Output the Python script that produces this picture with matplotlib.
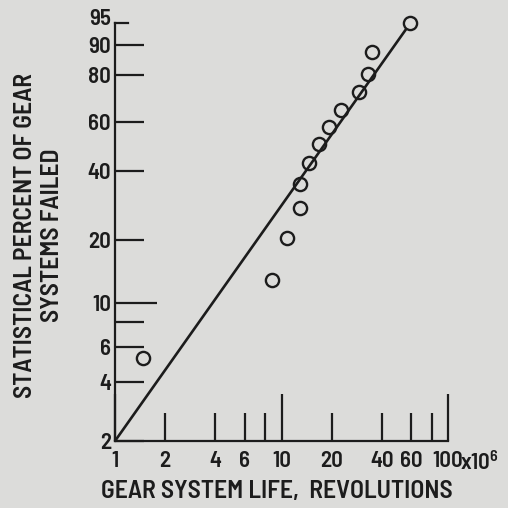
import numpy as np
import matplotlib
matplotlib.use("Agg")
import matplotlib.pyplot as plt
from matplotlib.ticker import FixedLocator, FixedFormatter

# gear system life, millions of revolutions, and statistical percent failed
life = [1.48, 8.8, 10.75, 12.9, 13.0, 14.7, 16.8, 19.3, 22.7, 29.2, 32.9, 34.8, 59.0]
pct_failed = [5.3, 12.9, 20.5, 28.0, 35.5, 43.0, 50.5, 58.0, 65.5, 73.0, 80.5, 88.0, 95.0]

# fitted Weibull line end points
fit_life = [1.0, 56.5]
fit_pct = [2.0, 94.0]

x_major = [1, 10, 100]
x_major_labels = ["1", "10", "100"]
x_minor = [2, 4, 6, 8, 20, 40, 60, 80]
x_minor_labels = ["2", "4", "6", "", "20", "40", "60", ""]
y_major = [10]
y_major_labels = ["10"]
y_minor = [2, 4, 6, 8, 20, 40, 60, 80, 90]
y_minor_labels = ["2", "4", "6", "", "20", "40", "60", "80", "90"]
y_top = 95

fnt = "Barlow Semi Condensed"
plt.rcParams["font.family"] = [fnt, "DejaVu Sans"]
plt.rcParams["font.weight"] = "semibold"
plt.rcParams["mathtext.fontset"] = "custom"
plt.rcParams["mathtext.rm"] = fnt + ":semibold"
plt.rcParams["mathtext.it"] = fnt + ":semibold"

ink = "#1c1c1c"
bg = "#dcdcda"
fs_tick = 16.5
fs_lab = 18.5


def weib(p):
    p = np.clip(np.asarray(p, dtype=float), 1e-6, 100 - 1e-6)
    return np.log(-np.log(1 - p / 100.0))


def weib_inv(w):
    return 100.0 * (1 - np.exp(-np.exp(np.asarray(w, dtype=float))))


fig = plt.figure(figsize=(5.08, 5.08), dpi=100, facecolor=bg)
ax = fig.add_axes([115 / 508, 1 - 441 / 508, 333 / 508, 418 / 508])
ax.set_facecolor(bg)

ax.set_xscale("log")
ax.set_yscale("function", functions=(weib, weib_inv))
ax.set_xlim(1, 100)
ax.set_ylim(2, y_top)

ax.plot(fit_life, fit_pct, color=ink, lw=1.9, solid_capstyle="butt", clip_on=False)
ax.plot(life, pct_failed, "o", ms=9.5, mfc="none", mec=ink, mew=1.7, clip_on=False)

for s in ["top", "right"]:
    ax.spines[s].set_visible(False)
for s in ["left", "bottom"]:
    ax.spines[s].set_color(ink)
    ax.spines[s].set_linewidth(1.6)

ax.xaxis.set_major_locator(FixedLocator(x_major))
ax.xaxis.set_major_formatter(FixedFormatter(x_major_labels))
ax.xaxis.set_minor_locator(FixedLocator(x_minor))
ax.xaxis.set_minor_formatter(FixedFormatter(x_minor_labels))
ax.yaxis.set_major_locator(FixedLocator(y_major))
ax.yaxis.set_major_formatter(FixedFormatter(y_major_labels))
ax.yaxis.set_minor_locator(FixedLocator(y_minor))
ax.yaxis.set_minor_formatter(FixedFormatter(y_minor_labels))

ax.tick_params(axis="x", which="major", direction="in", length=34, width=1.6,
               color=ink, labelcolor=ink, labelsize=fs_tick, pad=7)
ax.tick_params(axis="x", which="minor", direction="in", length=20, width=1.6,
               color=ink, labelcolor=ink, labelsize=fs_tick, pad=7)
ax.tick_params(axis="y", which="major", direction="in", length=30, width=1.6,
               color=ink, labelcolor=ink, labelsize=fs_tick, pad=3)
ax.tick_params(axis="y", which="minor", direction="in", length=21, width=1.6,
               color=ink, labelcolor=ink, labelsize=fs_tick, pad=3)

# short hook at the top of the percent scale
ax.axhline(y_top, xmin=0, xmax=13 / 333, color=ink, lw=1.6, clip_on=False)
ax.annotate("95", xy=(0, y_top), xycoords=ax.get_yaxis_transform(),
            xytext=(-3, 3), textcoords="offset points", ha="right", va="center",
            fontsize=fs_tick, color=ink)

ax.annotate("x10$^{6}$", xy=(100, 0), xycoords=ax.get_xaxis_transform(),
            xytext=(9, -15.5), textcoords="offset points", ha="left", va="center",
            fontsize=fs_tick, color=ink)

fig.text(277 / 508, 1 - 492 / 508, "GEAR SYSTEM LIFE,  REVOLUTIONS", ha="center",
         va="center", fontsize=fs_lab, color=ink)
fig.text(39 / 508, 1 - 235 / 508, "STATISTICAL PERCENT OF GEAR\nSYSTEMS FAILED",
         ha="center", va="center", rotation=90, fontsize=fs_lab, color=ink,
         linespacing=1.25)

fig.savefig("out.png", dpi=100, facecolor=bg)
